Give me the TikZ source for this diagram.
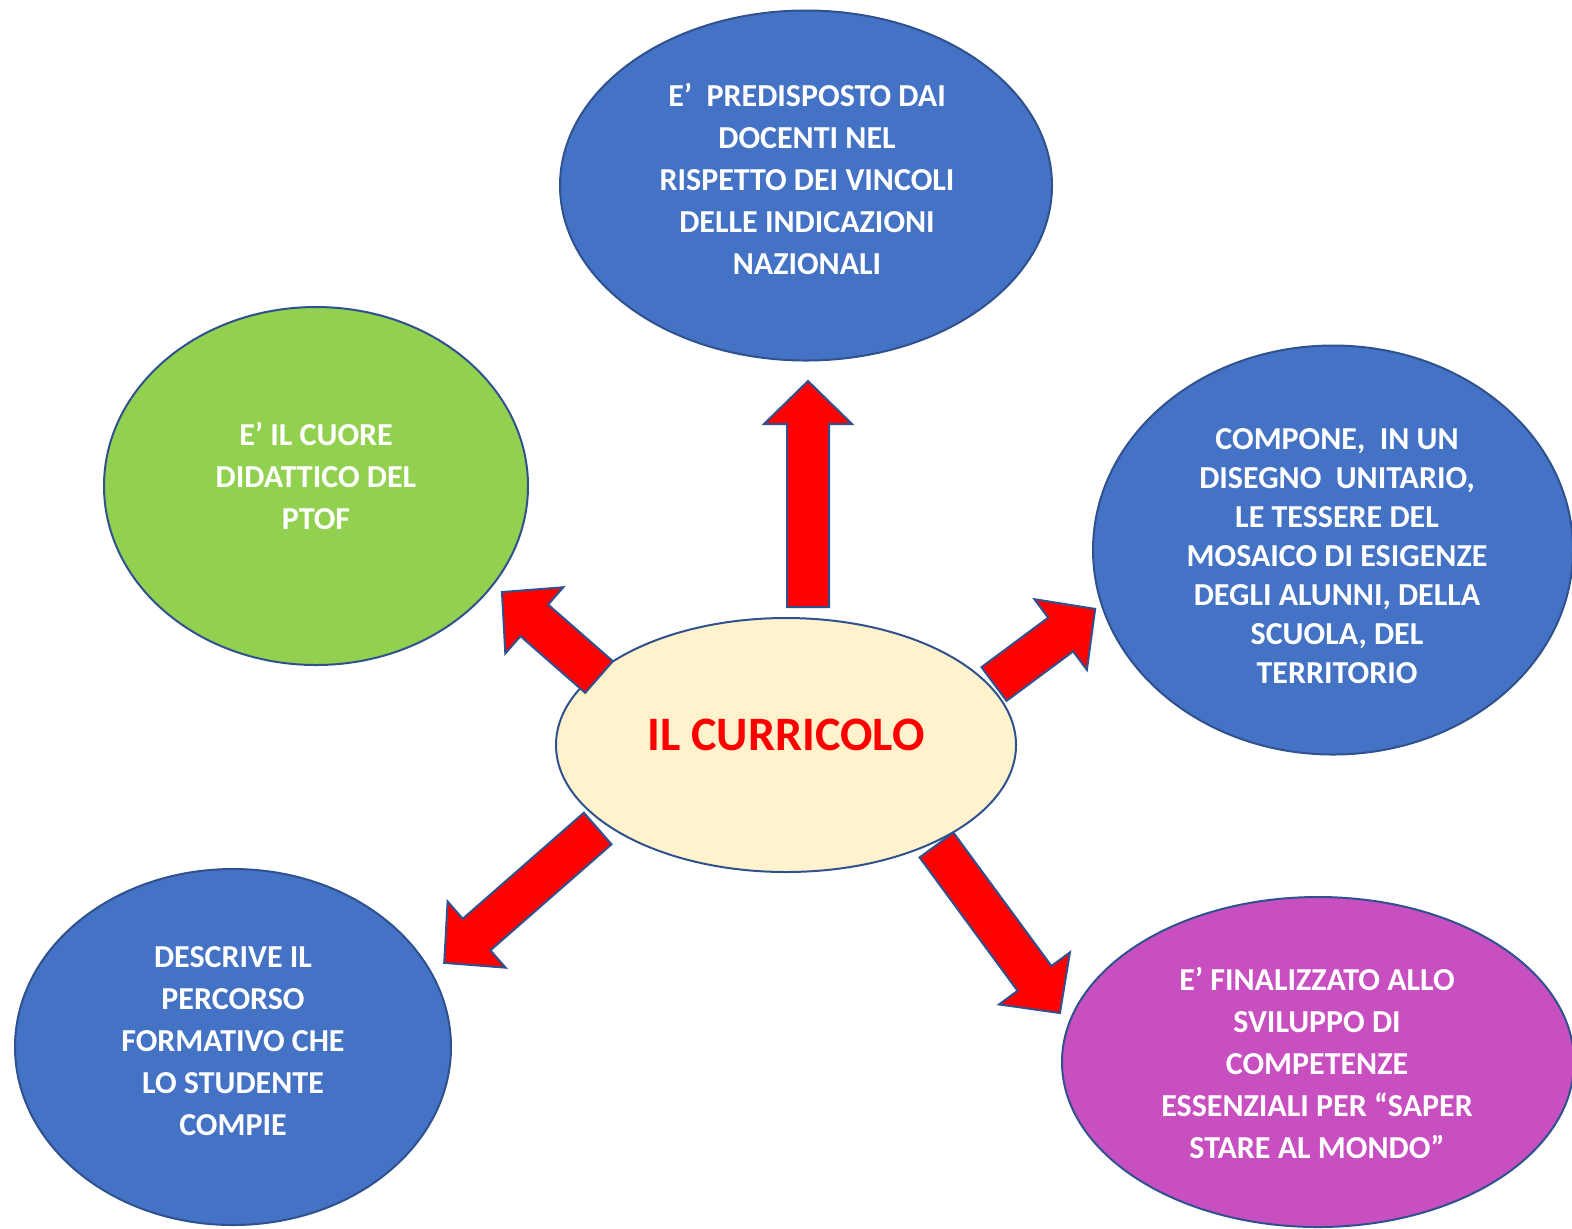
\documentclass[tikz,border=0pt]{standalone}
\usepackage{fontspec}
\setmainfont{Carlito}
\usetikzlibrary{shapes.geometric}
\definecolor{cblue}{HTML}{4472C4}
\definecolor{cgreen}{HTML}{92D050}
\definecolor{cmag}{HTML}{C84FC0}
\definecolor{ccream}{HTML}{FFF2CC}
\definecolor{cline}{HTML}{2F528F}
\definecolor{cred}{HTML}{FF0000}
\tikzset{
  bubble/.style={ellipse, draw=cline, line width=1pt, inner sep=0pt, outer sep=0pt},
  btext/.style={text=white, font=\bfseries\fontsize{16}{21}\selectfont, align=center, inner sep=0pt},
  barrowstyle/.style={fill=cred, draw=cline, line width=1pt, line join=miter},
}
% #1 start coordinate, #2 visual angle, #3 length (px)
\newcommand\blockarrow[3]{%
  \draw[barrowstyle, shift={(#1)}, rotate=#2]
    (0,-21) -- (#3-43,-21) -- (#3-43,-44) -- (#3,0) -- (#3-43,44) -- (#3-43,21) -- (0,21) -- cycle;}
\begin{document}
\begin{tikzpicture}[x=0.5pt, y=-0.5pt]
\useasboundingbox (0,0) rectangle (1572,1228);
\clip (0,0) rectangle (1572,1228);
% bubbles
\node[bubble, fill=cblue, minimum width=246pt, minimum height=175pt] (top) at (806,185.5) {};
\node[bubble, fill=cgreen, minimum width=212pt, minimum height=179pt] (green) at (316,486) {};
\node[bubble, fill=cblue, minimum width=240pt, minimum height=204.5pt] (right) at (1333,550) {};
\node[bubble, fill=cblue, minimum width=218pt, minimum height=178pt] (botleft) at (233,1047) {};
\node[bubble, fill=cmag, minimum width=256pt, minimum height=165pt] (botright) at (1318,1062) {};
\node[bubble, fill=ccream, minimum width=230pt, minimum height=127pt] (center) at (786,745) {};
% arrows
\coordinate (aup) at (808,607);
\coordinate (aul) at (599,677);
\coordinate (aur) at (994,684);
\coordinate (all) at (597.7,828.5);
\coordinate (alr) at (936.5,845);
\blockarrow{aup}{90}{226}
\blockarrow{aul}{138.8}{129}
\blockarrow{aur}{36.6}{126}
\blockarrow{all}{221.2}{204}
\blockarrow{alr}{-53.7}{208.5}
% texts
\node[btext] (ttop) at (807,179) {E’\ \ PREDISPOSTO DAI\\DOCENTI NEL\\RISPETTO DEI VINCOLI\\DELLE INDICAZIONI\\NAZIONALI};
\node[btext] (tgreen) at (316,476) {E’ IL CUORE\\DIDATTICO DEL\\PTOF};
\node[btext, font=\bfseries\fontsize{16}{19.5}\selectfont] (tright) at (1337,556) {COMPONE,\ \ IN UN\\DISEGNO\ \ UNITARIO,\\LE TESSERE DEL\\MOSAICO DI ESIGENZE\\DEGLI ALUNNI, DELLA\\SCUOLA, DEL\\TERRITORIO};
\node[btext] (tbl) at (233,1041) {DESCRIVE IL\\PERCORSO\\FORMATIVO CHE\\LO STUDENTE\\COMPIE};
\node[btext] (tbr) at (1317,1062.5) {E’ FINALIZZATO ALLO\\SVILUPPO DI\\COMPETENZE\\ESSENZIALI PER “SAPER\\STARE AL MONDO”};
\node[text=cred, font=\bfseries\fontsize{24}{29}\selectfont, inner sep=0pt] (title) at (786,735) {IL CURRICOLO};
\end{tikzpicture}
\end{document}
